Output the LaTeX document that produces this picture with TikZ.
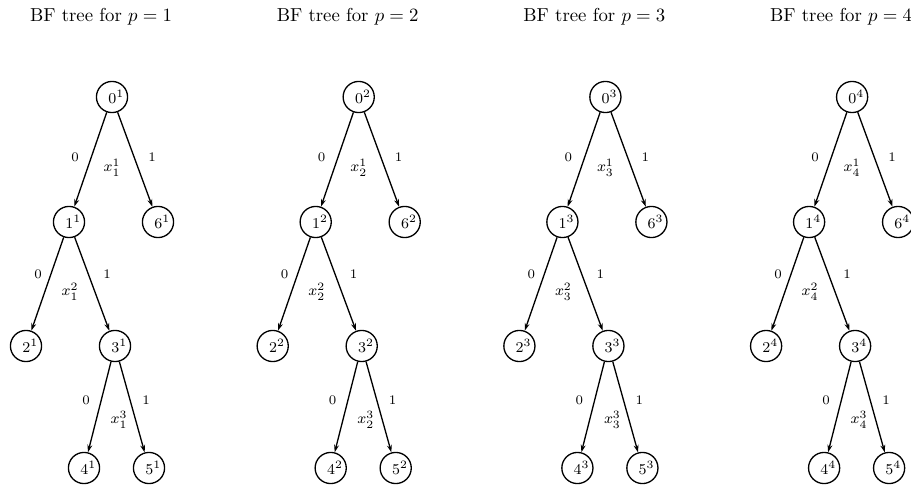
\documentclass[tikz,border=0pt]{standalone}
\usetikzlibrary{arrows.meta}
\begin{document}
\begin{tikzpicture}[x=0.533pt,y=-0.533pt,
  tnode/.style={draw,circle,line width=0.7pt,minimum size=16.6pt,inner sep=0pt,font=\footnotesize},
  tedge/.style={line width=0.7pt,-{Stealth[length=4pt,width=2.6pt]}},
  elab/.style={font=\scriptsize,inner sep=0pt},
  vlab/.style={font=\footnotesize,inner sep=0pt},
  ttl/.style={font=\normalsize,inner sep=0pt}]
\useasboundingbox (0,0) rectangle (911,485);
\clip (0,0) rectangle (911,485);
\foreach \p in {1,2,3,4}{
  \begin{scope}[xshift={(\p-1)*246.7*0.533pt}]
    \node[ttl] (t\p) at (101,17) {BF tree for $p=\p$};
    \node[tnode] (a\p) at (112,97) {\hspace*{4.5pt}$0^{\p}$};
    \node[tnode] (b\p) at (69,222) {\hspace*{4.5pt}$1^{\p}$};
    \node[tnode] (g\p) at (158,222) {\hspace*{4.5pt}$6^{\p}$};
    \node[tnode] (c\p) at (26,346) {\hspace*{4.5pt}$2^{\p}$};
    \node[tnode] (d\p) at (115,346) {\hspace*{4.5pt}$3^{\p}$};
    \node[tnode] (e\p) at (84,468) {\hspace*{4.5pt}$4^{\p}$};
    \node[tnode] (f\p) at (149,468) {\hspace*{4.5pt}$5^{\p}$};
    \draw[tedge] (a\p) -- (b\p);
    \draw[tedge] (a\p) -- (g\p);
    \draw[tedge] (b\p) -- (c\p);
    \draw[tedge] (b\p) -- (d\p);
    \draw[tedge] (d\p) -- (e\p);
    \draw[tedge] (d\p) -- (f\p);
    \node[elab] (l0a\p) at (75,157) {0};
    \node[elab] (l1a\p) at (152,157) {1};
    \node[vlab] (xa\p) at (112,168) {$x_{\p}^{1}$};
    \node[elab] (l0b\p) at (38,274) {0};
    \node[elab] (l1b\p) at (107,274) {1};
    \node[vlab] (xb\p) at (70,292) {$x_{\p}^{2}$};
    \node[elab] (l0c\p) at (86,400) {0};
    \node[elab] (l1c\p) at (146,400) {1};
    \node[vlab] (xc\p) at (119,420) {$x_{\p}^{3}$};
  \end{scope}
}
\end{tikzpicture}
\end{document}
